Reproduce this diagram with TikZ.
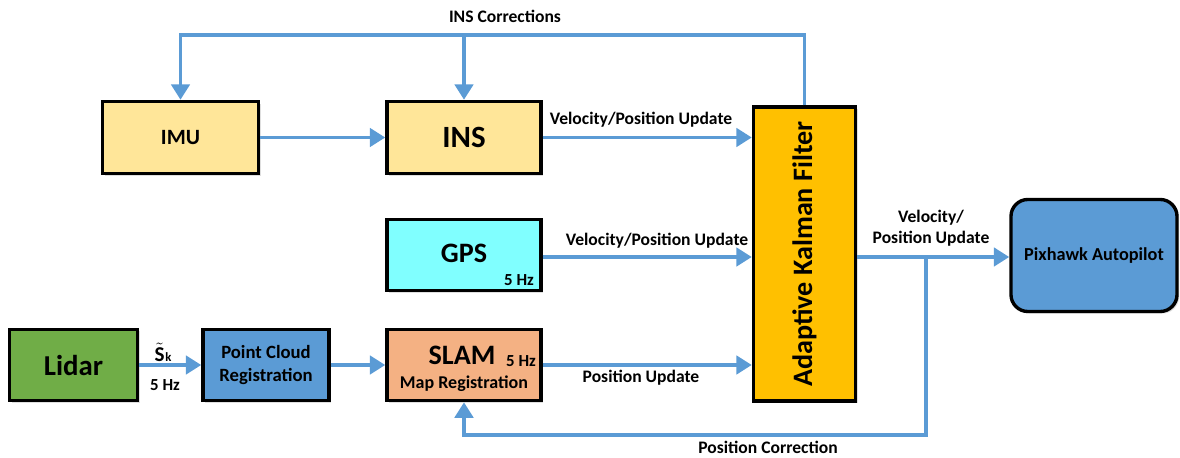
\documentclass[tikz,border=0pt]{standalone}
\usepackage{fontspec}
\setmainfont{Carlito}
\usetikzlibrary{arrows.meta,shadows}
\definecolor{flowblue}{HTML}{5B9BD5}
\definecolor{paleyellow}{HTML}{FFE699}
\definecolor{gpscyan}{HTML}{80FFFF}
\definecolor{lidargreen}{HTML}{70AD47}
\definecolor{slamorange}{HTML}{F4B183}
\definecolor{kalmanorange}{HTML}{FFC000}
\tikzset{
  blk/.style={draw=black, line width=2.4pt, inner sep=0pt, align=center,
    font=\bfseries, drop shadow={opacity=0.25, shadow xshift=1.5pt, shadow yshift=-1.5pt}},
  flow/.style={draw=flowblue, line width=2.8pt, -{Triangle[length=11pt,width=13pt]}},
  lbl/.style={font=\bfseries\fontsize{12.5}{15}\selectfont, inner sep=0pt, align=center},
  hz/.style={font=\bfseries\fontsize{12}{14}\selectfont, inner sep=0pt},
}
\begin{document}
\begin{tikzpicture}[x=0.025cm, y=-0.025cm]
\useasboundingbox (0,0) rectangle (1180,458);
% blocks
\node[blk, fill=paleyellow, minimum width=3.9cm, minimum height=1.8cm, font=\bfseries\fontsize{15.5}{18}\selectfont] (imu) at (180.5,137.5) {IMU};
\node[blk, fill=paleyellow, minimum width=3.85cm, minimum height=1.8cm, font=\bfseries\fontsize{22}{24}\selectfont] (ins) at (464,137.5) {INS};
\node[blk, fill=gpscyan, minimum width=3.85cm, minimum height=1.78cm] (gps) at (464,255) {};
\node[blk, fill=lidargreen, minimum width=3.2cm, minimum height=1.78cm, font=\bfseries\fontsize{20.5}{22}\selectfont] (lidar) at (73.5,365) {Lidar};
\node[blk, fill=flowblue, minimum width=3.15cm, minimum height=1.78cm, font=\bfseries\fontsize{13.3}{16.5}\selectfont] (cloud) at (266,365) {Point Cloud\\Registration};
\node[blk, fill=slamorange, minimum width=3.85cm, minimum height=1.78cm] (slam) at (464,365) {};
\node[blk, fill=kalmanorange, minimum width=2.55cm, minimum height=7.35cm] (kalman) at (804.5,254) {};
\node[blk, fill=flowblue, rounded corners=12pt, minimum width=4.15cm, minimum height=2.8cm, font=\bfseries\fontsize{13}{15}\selectfont] (pix) at (1094,255.5) {Pixhawk Autopilot};
% texts inside blocks
\node[font=\bfseries\fontsize{20}{22}\selectfont, inner sep=0pt] (gpstxt) at (464,253) {GPS};
\node[hz] (gpshz) at (519,280) {5 Hz};
\node[font=\bfseries\fontsize{20}{22}\selectfont, inner sep=0pt] (slamtxt) at (462,355) {SLAM};
\node[hz] (slamhz) at (521,361) {5 Hz};
\node[font=\bfseries\fontsize{12.8}{15}\selectfont, inner sep=0pt] (maptxt) at (464,384) {Map Registration};
\node[font=\bfseries\fontsize{20}{22}\selectfont, inner sep=0pt, rotate=90] (kalmantxt) at (804.5,254) {Adaptive Kalman Filter};
% helper points
\coordinate (topline) at (0,35);
\coordinate (botline) at (0,435);
\coordinate (tap) at (926,257);
% connectors
\draw[flow] (imu) -- (ins);
\draw[flow] (ins) -- (ins -| kalman.west);
\draw[flow] (gps.east |- tap) -- (kalman.west |- tap);
\draw[flow] (slam) -- (slam -| kalman.west);
\draw[flow] (lidar) -- (cloud);
\draw[flow] (cloud) -- (slam);
\draw[flow] (kalman.east |- tap) -- (pix.west |- tap);
\draw[flow] (kalman.north) -- (kalman.north |- topline) -| (imu.north);
\draw[flow] (ins.north |- topline) -- (ins.north);
\draw[flow] (tap) -- (tap |- botline) -| (slam.south);
% labels
\node[lbl] (corrlbl) at (505,16) {INS Corrections};
\node[lbl] (inslbl) at (641,120) {Velocity/Position Update};
\node[lbl] (gpslbl) at (657,241) {Velocity/Position Update};
\node[lbl] (slamlbl) at (641,378) {Position Update};
\node[lbl] (pixlbl) at (931,228) {Velocity/\\Position Update};
\node[lbl] (poslbl) at (768,447) {Position Correction};
\node[font=\bfseries\fontsize{15}{16}\selectfont, inner sep=0pt] (sklbl) at (163,352) {$\tilde{\hbox{\bfseries S}}$\kern0.5pt{\fontsize{9}{9}\selectfont k}};
\node[hz] (lidarhz) at (165,385) {5 Hz};
\end{tikzpicture}
\end{document}
